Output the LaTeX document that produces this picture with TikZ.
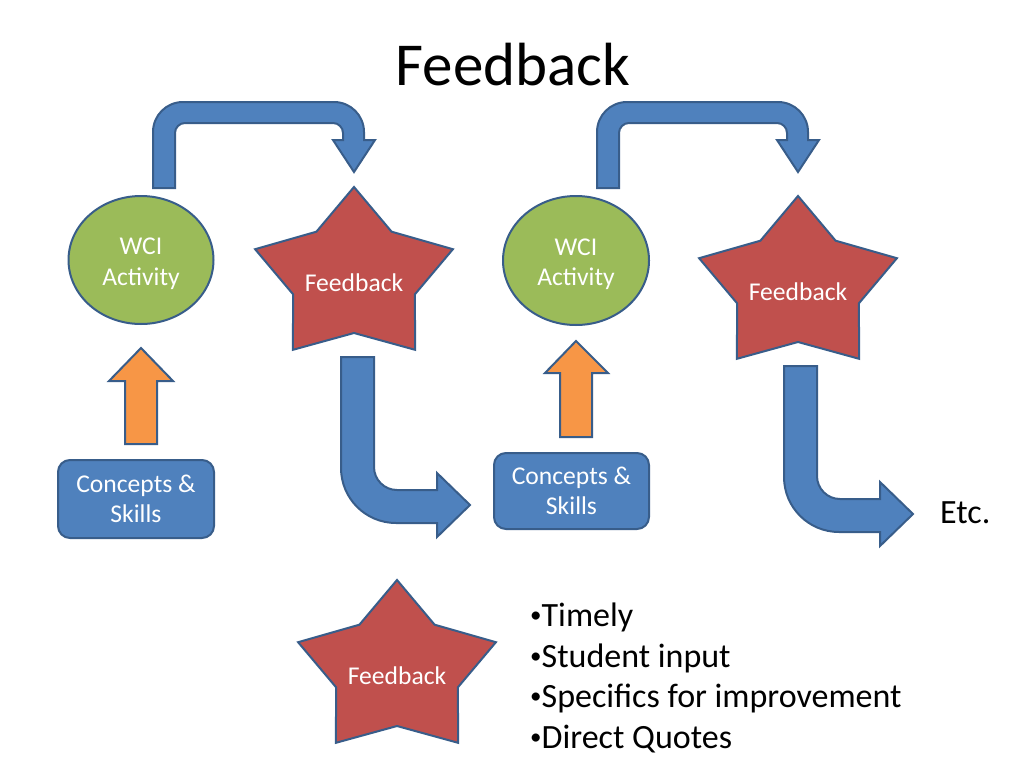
\documentclass[tikz,border=0pt]{standalone}
\usepackage{fontspec}
\setmainfont{Carlito}
\usetikzlibrary{shapes.geometric}
\definecolor{pblue}{HTML}{4F81BD}
\definecolor{pline}{HTML}{385D8A}
\definecolor{pgreen}{HTML}{9BBB59}
\definecolor{pred}{HTML}{C0504D}
\definecolor{porange}{HTML}{F79646}
\newcommand\mybul{\raisebox{3.3pt}{\fontsize{23}{23}\selectfont •}}
\tikzset{
  outl/.style={draw=pline, line width=2pt, line join=miter},
  intxt/.style={text=white, align=center, font=\fontsize{25.6}{30.5}\selectfont},
  bigtxt/.style={text=black, font=\fontsize{34}{40}\selectfont, inner sep=0pt},
  wcibox/.style={ellipse, outl, fill=pgreen, inner sep=0pt},
  csbox/.style={rectangle, rounded corners=12pt, outl, fill=pblue, inner sep=0pt, intxt},
  pstar/.pic={
    \path[outl, fill=pred] (0,-90) -- (37.6,-45.3) -- (98.9,-27.8) -- (60.9,17.3)
      -- (61.1,72.8) -- (0,56) -- (-61.1,72.8) -- (-60.9,17.3) -- (-98.9,-27.8)
      -- (-37.6,-45.3) -- cycle;
  },
  uturn/.pic={
    \path[outl, fill=pblue] (153,188) -- (153,132)
      .. controls (153,115.4) and (166.4,102) .. (183,102) -- (334,102)
      .. controls (350.6,102) and (364,115.4) .. (364,132) -- (364,140)
      -- (375,140) -- (354,172) -- (333,140) -- (343,140) -- (343,133)
      .. controls (343,127.5) and (338.5,123) .. (333,123) -- (185,123)
      .. controls (179.5,123) and (175,127.5) .. (175,133) -- (175,188) -- cycle;
  },
  bentdown/.pic={
    \path[outl, fill=pblue] (341,357) -- (374,357) -- (374,467)
      .. controls (374,479.7) and (384.3,490) .. (397,490) -- (437,490)
      -- (437,473) -- (470,505) -- (437,537) -- (437,523) -- (396,523)
      .. controls (365.6,523) and (341,498.4) .. (341,468) -- cycle;
  }
}
\begin{document}
\begin{tikzpicture}[x=1pt,y=-1pt]
\fill[white] (0,0) rectangle (1024,768);
\useasboundingbox (0,0) rectangle (1024,768);

% title
\node[anchor=base, inner sep=0pt, font=\fontsize{61}{73}\selectfont] (title) at (513,85) {Feedback};

% U-turn arrows
\pic at (0,0) {uturn};
\pic at (444,0) {uturn};

% bent arrows
\pic at (0,0) {bentdown};
\pic at (443,9) {bentdown};

% WCI ellipses
\node[wcibox, minimum width=145pt, minimum height=128pt] (wci1) at (141,260) {};
\node[intxt] (wci1t) at (141,264) {WCI\\Activity};
\node[wcibox, minimum width=146pt, minimum height=129pt] (wci2) at (576,260.5) {};
\node[intxt] (wci2t) at (576,264.5) {WCI\\Activity};

% stars
\pic at (354,277) {pstar};
\node[intxt] (fb1) at (354,283) {Feedback};
\pic at (798,286) {pstar};
\node[intxt] (fb2) at (798,292) {Feedback};
\pic at (397,670) {pstar};
\node[intxt] (fb3) at (397,676) {Feedback};

% orange arrows
\path[outl, fill=porange] (125,444) -- (125,381) -- (109,381) -- (141,348)
  -- (173,381) -- (157,381) -- (157,444) -- cycle;
\path[outl, fill=porange] (560,437) -- (560,373) -- (545,373) -- (576,341)
  -- (608,373) -- (592,373) -- (592,437) -- cycle;

% concepts boxes
\node[csbox, minimum width=156pt, minimum height=78pt] (cs1) at (136,499) {Concepts \&\\Skills};
\node[csbox, minimum width=155pt, minimum height=76pt] (cs2) at (571.5,491) {Concepts \&\\Skills};

% Etc.
\node[bigtxt, anchor=base west] (etc) at (940,523) {Etc.};

% bullets
\node[bigtxt, anchor=base west] (b1) at (530,626) {\mybul Timely};
\node[bigtxt, anchor=base west] (b2) at (530,667) {\mybul Student input};
\node[bigtxt, anchor=base west] (b3) at (530,707) {\mybul Specifics for improvement};
\node[bigtxt, anchor=base west] (b4) at (530,748) {\mybul Direct Quotes};
\end{tikzpicture}
\end{document}
